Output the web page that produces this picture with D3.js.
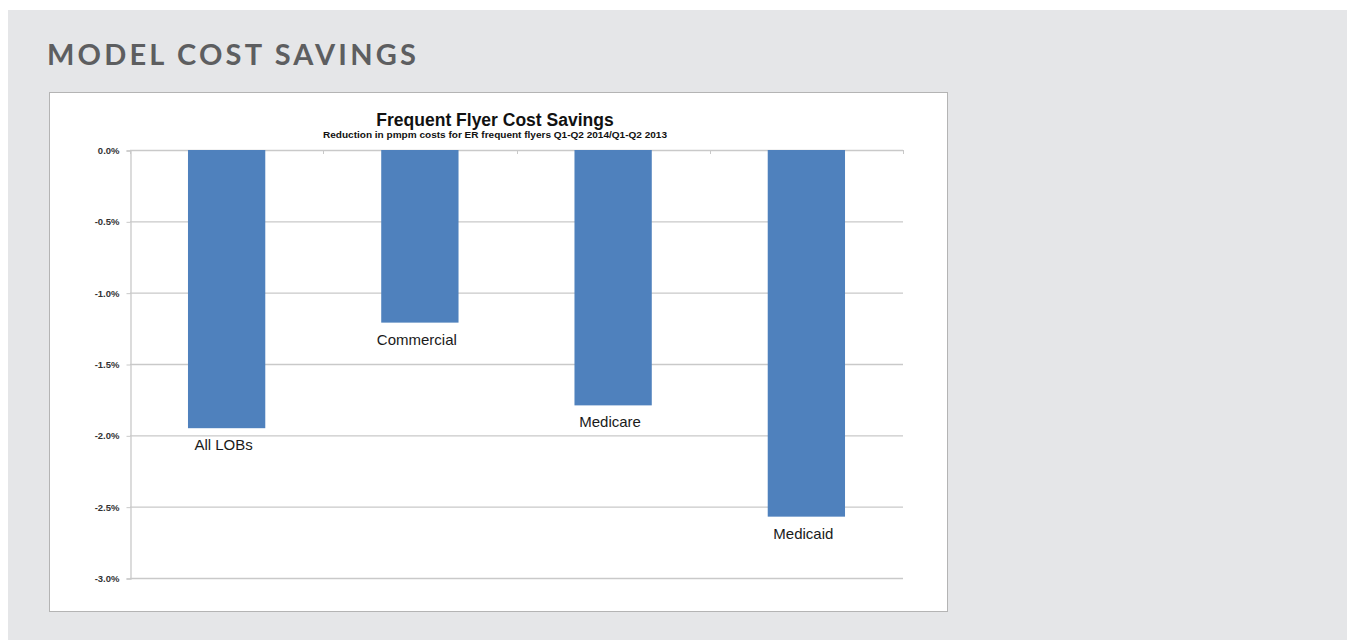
<!DOCTYPE html>
<html>
<head>
<meta charset="utf-8">
<script src="https://cdn.jsdelivr.net/npm/d3@7"></script>
<style>
  body { margin: 0; background: #fff; }
  svg { display: block; }
</style>
</head>
<body>
<svg id="chart" width="1347" height="640"></svg>
<script>
// chart data
const categories = ['All LOBs', 'Commercial', 'Medicare', 'Medicaid']
const savings = [-1.95, -1.21, -1.79, -2.57]
const yTicks = [0, -0.5, -1.0, -1.5, -2.0, -2.5, -3.0]

const pageTitle = 'MODEL COST SAVINGS'
const chartTitle = 'Frequent Flyer Cost Savings'
const chartSubtitle = 'Reduction in pmpm costs for ER frequent flyers Q1-Q2 2014/Q1-Q2 2013'

const svg = d3.select('#chart')

// grey panel
svg.append('rect')
  .attr('x', 8).attr('y', 10)
  .attr('width', 1339).attr('height', 630)
  .attr('fill', '#e5e6e8')

svg.append('text')
  .attr('x', 47).attr('y', 65)
  .attr('font-family', 'Lato, sans-serif')
  .attr('font-weight', 700)
  .attr('font-size', 29)
  .attr('letter-spacing', 3.2)
  .attr('fill', '#5d5e60')
  .text(pageTitle)

// white chart box
svg.append('rect')
  .attr('x', 49.5).attr('y', 92.5)
  .attr('width', 898).attr('height', 519)
  .attr('fill', '#fff')
  .attr('stroke', '#b4b4b4')
  .attr('stroke-width', 1)

const plot = { left: 130, right: 903, top: 150, bottom: 578 }

const xScale = d3.scaleBand()
  .domain(categories)
  .range([plot.left, plot.right])
  .paddingInner(0.6)
  .paddingOuter(0.3)

const yScale = d3.scaleLinear()
  .domain([0, -3])
  .range([plot.top, plot.bottom])

svg.append('text')
  .attr('x', 495).attr('y', 126)
  .attr('text-anchor', 'middle')
  .attr('font-family', 'Arial, Liberation Sans, sans-serif')
  .attr('font-weight', 700)
  .attr('font-size', 17.5)
  .attr('fill', '#111')
  .text(chartTitle)

svg.append('text')
  .attr('x', 495).attr('y', 138)
  .attr('text-anchor', 'middle')
  .attr('font-family', 'Arial, Liberation Sans, sans-serif')
  .attr('font-weight', 700)
  .attr('font-size', 9.4)
  .attr('textLength', 344)
  .attr('lengthAdjust', 'spacingAndGlyphs')
  .attr('fill', '#111')
  .text(chartSubtitle)

// gridlines
svg.append('g')
  .selectAll('line')
  .data(yTicks.slice(1))
  .join('line')
  .attr('x1', plot.left).attr('x2', plot.right)
  .attr('y1', d => yScale(d) + 0.5).attr('y2', d => yScale(d) + 0.5)
  .attr('stroke', '#c9c9c9')
  .attr('stroke-width', 1.3)

// y axis
const yAxis = svg.append('g')
  .attr('class', 'yaxis')
  .attr('transform', 'translate(' + (plot.left + 0.5) + ',0.5)')
  .call(d3.axisLeft(yScale).tickValues(yTicks).tickSize(4).tickPadding(7)
    .tickFormat(d => d.toFixed(1) + '%'))
yAxis.select('.domain').attr('stroke', '#c9c9c9').attr('stroke-width', 1.3)
yAxis.selectAll('.tick line').attr('stroke', '#c9c9c9')
yAxis.selectAll('text')
  .attr('font-family', 'Arial, Liberation Sans, sans-serif')
  .attr('font-weight', 700)
  .attr('font-size', 9.5)
  .attr('fill', '#333')

// category axis along zero line, ticks at boundaries between categories
const edges = categories.map(c => xScale(c) - xScale.step() * xScale.paddingOuter())
edges.push(plot.right)
svg.append('line')
  .attr('x1', plot.left).attr('x2', plot.right)
  .attr('y1', yScale(0) + 0.5).attr('y2', yScale(0) + 0.5)
  .attr('stroke', '#c9c9c9')
  .attr('stroke-width', 1.3)
svg.append('g')
  .selectAll('line')
  .data(edges)
  .join('line')
  .attr('x1', d => Math.round(d) + 0.5).attr('x2', d => Math.round(d) + 0.5)
  .attr('y1', yScale(0)).attr('y2', yScale(0) + 4)
  .attr('stroke', '#c9c9c9')

// bars
svg.append('g')
  .selectAll('rect')
  .data(categories)
  .join('rect')
  .attr('x', d => xScale(d))
  .attr('y', yScale(0))
  .attr('width', xScale.bandwidth())
  .attr('height', (d, i) => yScale(savings[i]) - yScale(0))
  .attr('fill', '#4f81bd')

// data labels
svg.append('g')
  .selectAll('text')
  .data(categories)
  .join('text')
  .attr('x', d => xScale(d) + xScale.bandwidth() / 2 - 3)
  .attr('y', (d, i) => yScale(savings[i]) + 22)
  .attr('text-anchor', 'middle')
  .attr('font-family', 'Arial, Liberation Sans, sans-serif')
  .attr('font-size', 15)
  .attr('fill', '#1a1a1a')
  .text(d => d)
</script>
</body>
</html>
